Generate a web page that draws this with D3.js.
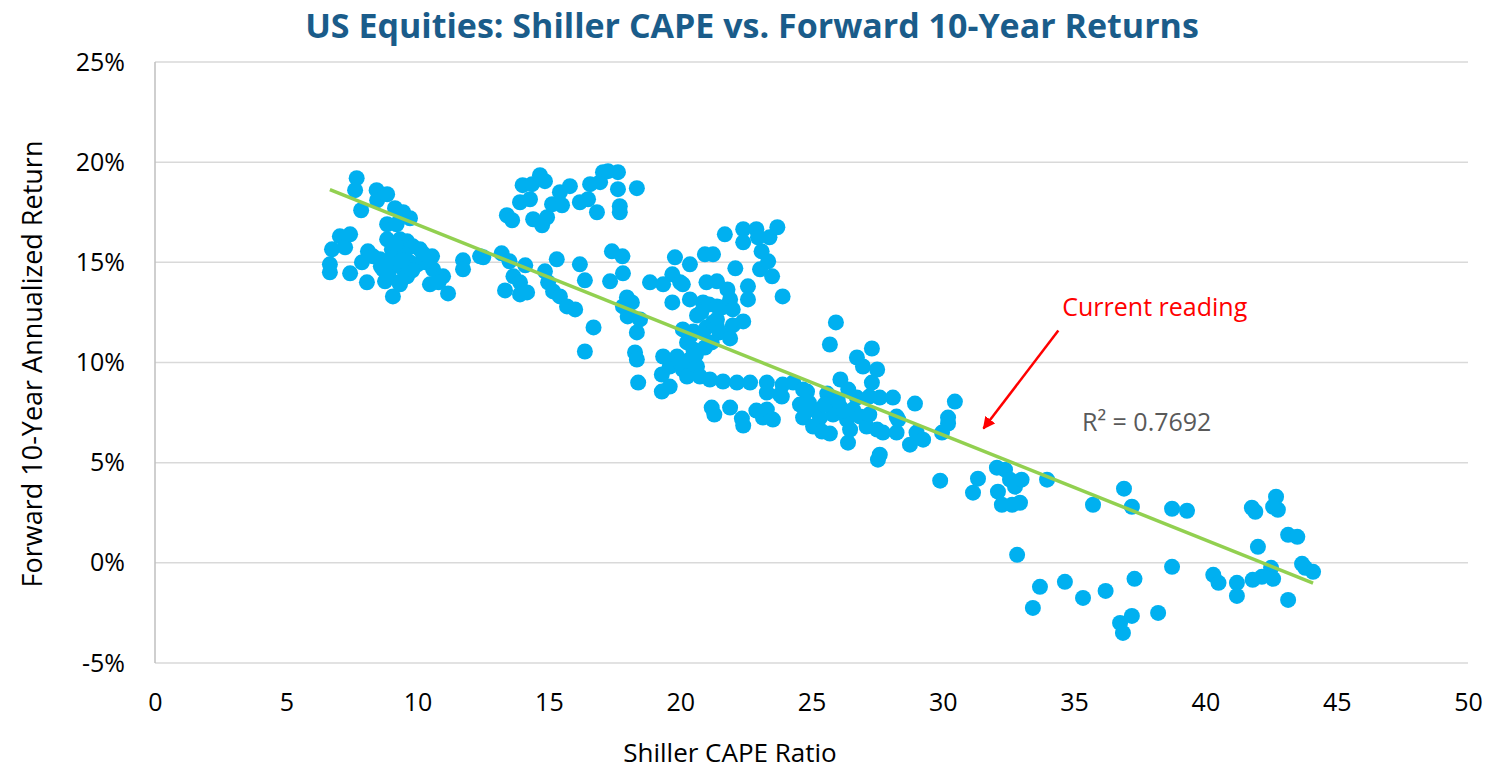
<!DOCTYPE html>
<html>
<head>
<meta charset="utf-8">
<script src="https://cdn.jsdelivr.net/npm/d3@7"></script>
<style>
  body { margin: 0; background: #fff; }
  text { font-family: "Open Sans", "Noto Sans", sans-serif; }
</style>
</head>
<body>
<svg id="chart" width="1486" height="771"></svg>
<script>
// Shiller CAPE (x) and forward 10-year annualized return in % (y)
var capeRatio = [
  6.66, 6.66, 6.74, 7.04, 7.24, 7.43, 7.43, 7.68, 7.62, 7.85, 7.88, 8.07, 8.11, 8.44, 8.46, 8.84, 8.57,
  8.68, 8.76, 8.84, 8.84, 9.02, 9.06, 9.06, 9.14, 9.2, 9.33, 9.33, 9.45, 9.45, 9.6, 9.71, 9.71, 9.82,
  10.09, 10.55, 10.59, 10.47, 10.97, 11.16, 11.73, 11.73, 12.38, 9.0, 9.5, 8.9, 10.0, 9.3, 10.3, 8.3, 9.6,
  9.15, 9.8, 10.2, 8.6, 9.4, 10.8,
  13.4, 13.6, 13.9, 14.0, 14.28, 14.36, 14.4, 14.66, 14.85, 14.74, 14.93, 15.12, 15.42, 15.5, 15.8,
  16.18, 16.49, 16.57, 16.83, 16.95, 17.06, 17.25, 17.63, 17.63, 17.7, 17.7, 18.35,
  12.5, 13.2, 13.5, 13.33, 13.65, 13.9, 13.9, 14.1, 14.17, 14.85, 14.97, 15.16, 15.3, 15.42, 15.69,
  16.0, 16.18, 16.37, 16.37, 16.7, 17.33, 17.4, 17.8, 17.82, 17.82, 17.97, 18.0, 18.16, 18.35, 18.28,
  18.35, 18.4, 18.47, 18.85, 19.35, 19.7, 19.8, 19.7, 20.0, 20.37,
  19.35, 19.3, 19.3, 19.6, 19.6, 19.88, 20.0, 20.1, 20.1, 20.1, 20.26, 20.26, 20.37, 20.37, 20.37,
  20.5, 20.5, 20.64, 20.64, 20.75, 20.87, 20.87, 20.94, 20.94, 21.0, 21.0, 21.13, 21.1, 21.25, 21.25,
  21.4, 21.4, 21.4, 21.4, 21.5, 21.6, 21.63, 21.7, 21.8, 21.9, 21.9, 22.0, 22.0, 22.1, 22.16, 22.4,
  22.4, 22.4, 22.58, 22.58, 22.66, 22.9, 22.96, 23.04, 23.1, 23.35, 23.4, 23.5, 23.7, 23.9, 23.3,
  23.3, 23.8, 23.9, 24.3, 20.8, 21.2, 20.6,
  21.2, 21.3, 21.9, 22.35, 22.4, 22.9, 23.15, 23.3, 23.53, 23.87, 24.56, 24.68, 24.68, 24.83, 25.06,
  25.06, 25.32, 25.4, 25.6, 25.7, 25.7, 25.82, 25.93, 26.08, 26.1, 26.35, 26.39, 26.4, 26.47, 26.58,
  26.73, 26.73, 26.85, 26.96, 27.1, 27.2, 27.2, 27.3, 27.3, 27.5, 27.5, 27.53, 27.6, 27.6, 27.72,
  28.1, 28.24, 28.24, 28.3, 28.75, 28.94, 29.0, 29.25, 29.97, 30.2, 30.2, 30.46, 29.9,
  25.5, 26.2, 26.0, 24.9,
  31.34, 31.15, 32.06, 32.37, 32.56, 32.75, 33.0, 32.1, 32.25, 32.64, 32.94, 33.97, 35.72, 32.83,
  33.7, 33.43, 34.65, 35.34, 36.2, 36.9, 37.2, 38.73, 39.3, 41.77, 41.9, 42.69, 42.58, 42.76, 43.15,
  43.5, 42.0, 43.68, 43.8, 44.1, 42.5, 42.58, 42.15, 41.8, 41.2, 41.2, 40.3, 40.5, 43.15, 38.73, 37.3,
  38.2, 37.2, 36.75, 36.86
];
var fwdReturn = [
  14.9, 14.5, 15.65, 16.3, 15.75, 16.4, 14.45, 19.2, 18.6, 17.6, 15.0, 14.0, 15.55, 18.6, 18.1, 18.4, 15.15,
  14.65, 14.05, 16.15, 16.9, 15.65, 14.8, 13.3, 17.7, 16.9, 16.15, 13.9, 17.5, 14.65, 16.05, 17.2, 15.0, 15.8,
  15.65, 15.3, 14.65, 13.9, 14.3, 13.45, 15.1, 14.65, 15.3, 15.2, 15.4, 14.3, 14.9, 14.0, 15.0, 15.3, 14.3,
  15.9, 14.6, 15.45, 14.8, 15.1, 14.0,
  17.35, 17.1, 18.0, 18.85, 18.15, 18.9, 17.15, 19.35, 19.05, 16.85, 17.25, 17.9, 18.5, 17.85, 18.8,
  18.0, 18.15, 18.9, 17.5, 19.0, 19.5, 19.55, 19.5, 18.65, 17.8, 17.5, 18.7,
  15.25, 15.45, 15.05, 13.6, 14.3, 14.0, 13.4, 14.85, 13.5, 14.55, 14.0, 13.55, 15.15, 13.3, 12.8,
  12.65, 14.9, 14.1, 10.55, 11.75, 14.05, 15.55, 15.3, 14.45, 12.8, 13.25, 12.3, 13.0, 11.5, 10.5,
  10.15, 9.0, 12.15, 14.0, 13.9, 13.0, 15.25, 14.4, 14.0, 14.9,
  10.3, 9.4, 8.55, 8.8, 9.8, 10.3, 10.0, 9.65, 11.65, 13.9, 9.3, 11.0, 10.15, 11.3, 13.15,
  10.65, 11.55, 12.35, 9.8, 9.3, 13.0, 11.5, 10.75, 15.4, 14.0, 11.75, 9.15, 12.9, 15.4, 12.0,
  14.05, 12.8, 12.15, 11.8, 11.5, 12.75, 9.05, 16.4, 13.65, 13.15, 11.2, 12.65, 11.85, 14.7, 9.0, 16.65,
  16.0, 12.05, 13.8, 13.15, 9.0, 16.65, 16.25, 14.65, 15.55, 15.05, 16.25, 14.3, 16.75, 13.3, 9.0,
  8.5, 8.4, 8.9, 9.0, 12.5, 11.0, 10.4,
  7.75, 7.4, 7.75, 7.2, 6.85, 7.6, 7.25, 7.65, 7.15, 8.3, 7.9, 8.65, 7.25, 8.55, 7.65,
  6.8, 7.25, 6.55, 8.45, 6.45, 10.9, 7.4, 12.0, 7.8, 9.15, 7.15, 6.0, 8.65, 6.65, 7.65,
  10.25, 8.25, 7.3, 9.8, 6.8, 8.3, 7.4, 10.7, 9.0, 9.65, 6.65, 5.15, 5.4, 8.25, 6.5,
  8.25, 7.3, 6.5, 7.15, 5.9, 7.95, 6.5, 6.15, 6.5, 7.25, 6.95, 8.05, 4.1,
  7.9, 7.6, 8.1, 8.0,
  4.2, 3.5, 4.75, 4.65, 4.15, 3.8, 4.15, 3.55, 2.9, 2.9, 3.0, 4.15, 2.9, 0.4,
  -1.2, -2.25, -0.95, -1.75, -1.4, 3.7, 2.8, 2.7, 2.6, 2.75, 2.55, 3.3, 2.8, 2.65, 1.4,
  1.3, 0.8, -0.05, -0.25, -0.45, -0.25, -0.8, -0.7, -0.85, -1.0, -1.65, -0.6, -1.0, -1.85, -0.2, -0.8,
  -2.5, -2.65, -3.0, -3.5
];
var xTicks = [0, 5, 10, 15, 20, 25, 30, 35, 40, 45, 50];
var yTicks = [-5, 0, 5, 10, 15, 20, 25];
var titleText = "US Equities: Shiller CAPE vs. Forward 10-Year Returns";
var rSquaredText = "R\u00b2 = 0.7692";

function drawChart(){
  var svg = d3.select("#chart");
  var plotLeft = 155, plotRight = 1468, plotTop = 62, plotBottom = 663;

  var x = d3.scaleLinear().domain([0, 50]).range([plotLeft, plotRight]);
  var y = d3.scaleLinear().domain([-5, 25]).range([plotBottom, plotTop]);

  // gridlines
  svg.append("g").selectAll("line").data(yTicks).enter().append("line")
    .attr("x1", plotLeft).attr("x2", plotRight)
    .attr("y1", function(d){ return y(d); }).attr("y2", function(d){ return y(d); })
    .style("stroke", "#d9d9d9").style("stroke-width", 1.5);

  // left axis line
  svg.append("line").attr("x1", plotLeft).attr("x2", plotLeft)
    .attr("y1", plotTop).attr("y2", plotBottom)
    .style("stroke", "#bfbfbf").style("stroke-width", 1.5);

  // axes (labels only)
  var yAxis = d3.axisLeft(y).tickValues(yTicks).tickSize(0).tickPadding(30)
    .tickFormat(function(d){ return d + "%"; });
  svg.append("g").attr("transform", "translate(" + plotLeft + ",0)").call(yAxis)
    .call(function(g){ g.select(".domain").remove(); })
    .selectAll("text").style("font-size", "25px").style("fill", "#000")
    .style("font-family", "'Open Sans', sans-serif");

  var xAxis = d3.axisBottom(x).tickValues(xTicks).tickSize(0).tickPadding(30);
  svg.append("g").attr("transform", "translate(0," + plotBottom + ")").call(xAxis)
    .call(function(g){ g.select(".domain").remove(); })
    .selectAll("text").style("font-size", "25px").style("fill", "#000")
    .style("font-family", "'Open Sans', sans-serif");

  // points
  var pts = capeRatio.map(function(c, i){ return {x: c, y: fwdReturn[i]}; });
  svg.append("g").selectAll("circle").data(pts).enter().append("circle")
    .attr("cx", function(d){ return x(d.x); })
    .attr("cy", function(d){ return y(d.y); })
    .attr("r", 8)
    .style("fill", "#00b0f0");

  // linear trendline from the points
  var mx = d3.mean(pts, function(d){ return d.x; });
  var my = d3.mean(pts, function(d){ return d.y; });
  var sxy = d3.sum(pts, function(d){ return (d.x - mx) * (d.y - my); });
  var sxx = d3.sum(pts, function(d){ return (d.x - mx) * (d.x - mx); });
  var slope = sxy / sxx, intercept = my - slope * mx;
  var xExt = d3.extent(capeRatio);
  svg.append("line")
    .attr("x1", x(xExt[0])).attr("y1", y(intercept + slope * xExt[0]))
    .attr("x2", x(xExt[1])).attr("y2", y(intercept + slope * xExt[1]))
    .style("stroke", "#92d050").style("stroke-width", 3.5);

  // title
  svg.append("text").attr("x", 752).attr("y", 38).attr("text-anchor", "middle")
    .style("font-size", "34px").style("font-weight", "bold").style("fill", "#1a5c8a")
    .text(titleText);

  // axis titles
  svg.append("text").attr("x", 730).attr("y", 762).attr("text-anchor", "middle")
    .style("font-size", "26px").style("fill", "#000").text("Shiller CAPE Ratio");
  svg.append("text").attr("transform", "translate(42,364) rotate(-90)").attr("text-anchor", "middle")
    .style("font-size", "27px").style("fill", "#000").text("Forward 10-Year Annualized Return");

  // annotation
  svg.append("defs").append("marker").attr("id", "arrow")
    .attr("viewBox", "0 0 10 10").attr("refX", 9).attr("refY", 5)
    .attr("markerWidth", 5).attr("markerHeight", 5).attr("orient", "auto")
    .append("path").attr("d", "M0,0 L10,5 L0,10 z").style("fill", "#ff0000");
  svg.append("line")
    .attr("x1", x(34.4)).attr("y1", y(11.6))
    .attr("x2", x(31.55)).attr("y2", y(6.7))
    .style("stroke", "#ff0000").style("stroke-width", 2.5)
    .attr("marker-end", "url(#arrow)");
  svg.append("text").attr("x", x(34.55)).attr("y", y(12.3))
    .style("font-size", "25px").style("fill", "#ff0000").text("Current reading");
  svg.append("text").attr("x", x(35.3)).attr("y", y(6.6))
    .style("font-size", "25px").style("fill", "#595959").text(rSquaredText);
}

drawChart();
</script>
</body>
</html>
